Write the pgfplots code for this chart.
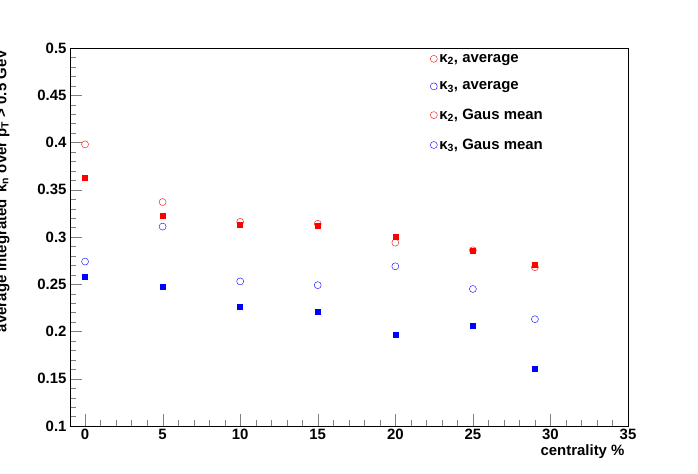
\documentclass[border=0pt]{standalone}
\usepackage{pgfplots}
\pgfplotsset{compat=1.18}
\usepackage{fontspec}
\setmainfont{Liberation Sans}
\begin{document}
\begin{tikzpicture}[x=1bp,y=1bp]
\useasboundingbox (0,0) rectangle (698,474);
\begin{axis}[at={(70bp,48bp)},anchor=south west,scale only axis,
 width=558bp,height=378bp,
 xmin=-0.97,xmax=35,ymin=0.1,ymax=0.5,
 xtick={0,5,...,35},minor x tick num=4,
 ytick={0.1,0.15,...,0.5},minor y tick num=4,
 tick align=inside,xtick pos=bottom,ytick pos=left,
 major tick length=12bp,minor tick length=6bp,
 /pgf/number format/assume math mode=true,
 yticklabel style={/pgf/number format/fixed,/pgf/number format/precision=2,font=\bfseries\fontsize{15}{17}\selectfont},
 xticklabel style={font=\bfseries\fontsize{15}{17}\selectfont},
 legend style={draw=none,fill=none,at={(0.64,0.995)},anchor=north west,font=\bfseries\fontsize{15}{17}\selectfont,row sep=14bp},
 legend cell align=left,
 clip=false]
\addlegendimage{only marks,mark=o,red,mark size=3.5bp}
\addlegendentry{κ\textsubscript{2}, average}
\addlegendimage{only marks,mark=o,blue,mark size=3.5bp}
\addlegendentry{κ\textsubscript{3}, average}
\addlegendimage{only marks,mark=o,red,mark size=3.5bp}
\addlegendentry{κ\textsubscript{2}, Gaus mean}
\addlegendimage{only marks,mark=o,blue,mark size=3.5bp}
\addlegendentry{κ\textsubscript{3}, Gaus mean}
\addplot[forget plot,only marks,mark=o,red,mark size=3.5bp] coordinates {(0,0.398)(5,0.337)(10,0.316)(15,0.314)(20,0.294)(25,0.286)(29,0.268)};
\addplot[forget plot,only marks,mark=square*,red,mark size=2.5bp] coordinates {(0,0.363)(5,0.323)(10,0.313)(15,0.312)(20,0.300)(25,0.286)(29,0.271)};
\addplot[forget plot,only marks,mark=o,blue,mark size=3.5bp] coordinates {(0,0.274)(5,0.311)(10,0.253)(15,0.249)(20,0.269)(25,0.245)(29,0.213)};
\addplot[forget plot,only marks,mark=square*,blue,mark size=2.5bp] coordinates {(0,0.258)(5,0.247)(10,0.226)(15,0.221)(20,0.197)(25,0.206)(29,0.161)};
\end{axis}
\node[anchor=north east,font=\bfseries\fontsize{15}{17}\selectfont] at (628,33) {centrality \%};
\node[rotate=90,anchor=south east,font=\bfseries\fontsize{15}{17}\selectfont] at (13,428) {average integrated\, κ\textsubscript{n} over p\textsubscript{T} > 0.5 GeV};
\end{tikzpicture}
\end{document}
